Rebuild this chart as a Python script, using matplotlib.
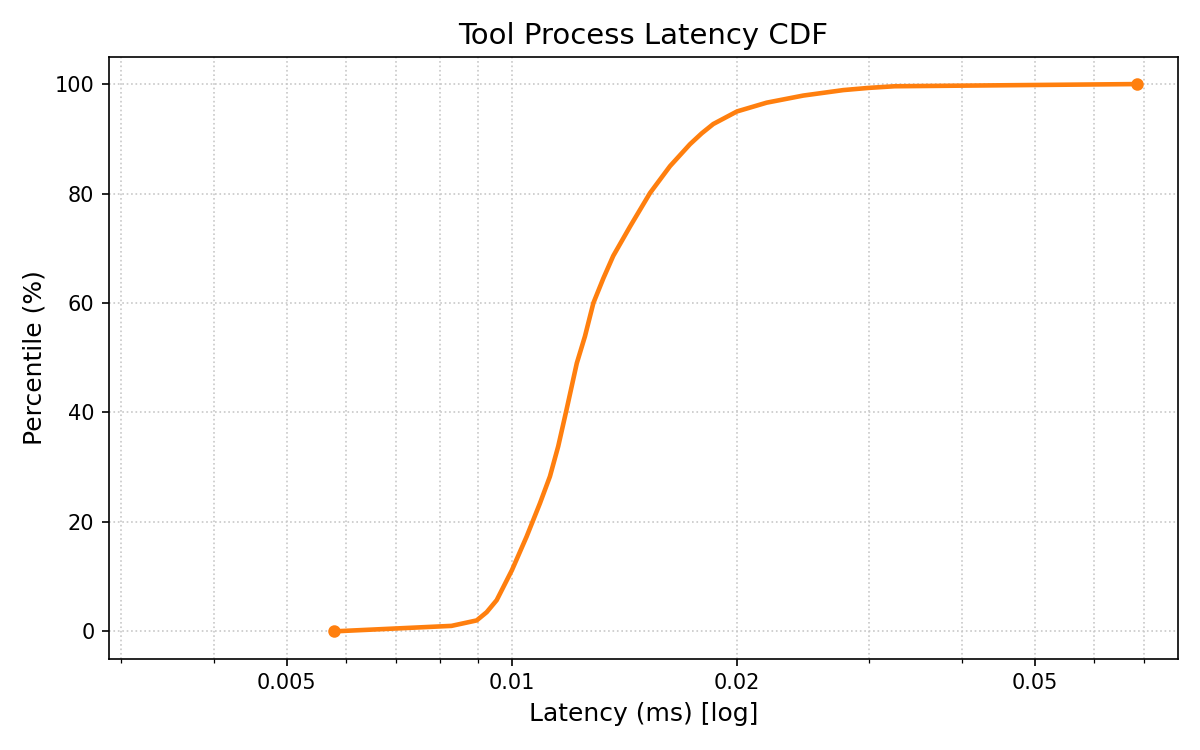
import matplotlib
matplotlib.use("Agg")
import matplotlib.pyplot as plt
from matplotlib.ticker import FixedLocator, FixedFormatter, LogLocator, NullFormatter

latency_ms = [0.00578, 0.0083, 0.00897, 0.00925, 0.00954, 0.0100, 0.01046,
              0.0109, 0.01124, 0.01153, 0.01183, 0.01221, 0.01252, 0.01285,
              0.01325, 0.01366, 0.01439, 0.0153, 0.01627, 0.0173, 0.01794,
              0.01859, 0.0200, 0.02191, 0.02453, 0.02775, 0.0300, 0.0325, 0.0685]
percentile = [0, 1.0, 2.0, 3.5, 5.7, 11.2, 17.3, 23.4, 28.3, 33.8, 40.5, 49.0,
              53.9, 60.0, 64.5, 68.6, 74.0, 80.1, 85.0, 89.0, 91.0, 92.7, 95.0,
              96.6, 97.9, 98.9, 99.3, 99.6, 100]
xtick_values = [0.005, 0.01, 0.02, 0.05]
xtick_labels = ["0.005", "0.01", "0.02", "0.05"]

fig, ax = plt.subplots(figsize=(8, 5), dpi=150)
fig.subplots_adjust(left=0.0908, right=0.9817, top=0.9244, bottom=0.1217)

color = "#ff7f0e"
ax.plot(latency_ms, percentile, color=color, linewidth=2.2, zorder=3,
        solid_joinstyle='round')
ax.plot([latency_ms[0], latency_ms[-1]], [percentile[0], percentile[-1]],
        'o', color=color, markersize=5, zorder=4)

ax.set_xscale('log')
ax.set_xlim(0.00289, 0.0778)
ax.xaxis.set_major_locator(FixedLocator(xtick_values))
ax.xaxis.set_major_formatter(FixedFormatter(xtick_labels))
ax.xaxis.set_minor_locator(LogLocator(base=10, subs=range(2, 10)))
ax.xaxis.set_minor_formatter(NullFormatter())

ax.grid(True, which='both', linestyle=':', color='#c8c8c8', linewidth=0.8)
ax.set_axisbelow(True)

ax.set_title("Tool Process Latency CDF", fontsize=14)
ax.set_xlabel("Latency (ms) [log]", fontsize=12)
ax.set_ylabel("Percentile (%)", fontsize=12)

fig.savefig("out.png")
